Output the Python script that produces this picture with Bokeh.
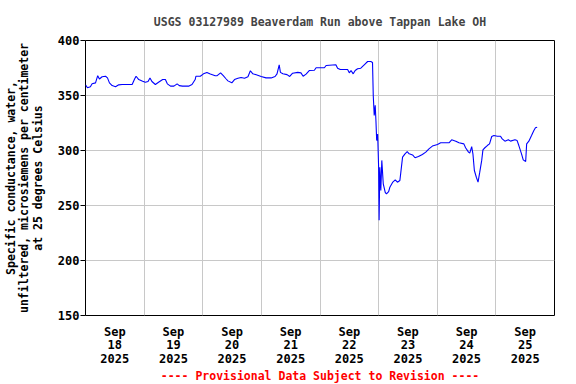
import pandas as pd
from bokeh.plotting import figure
from bokeh.models import FixedTicker, Title, Range1d
from bokeh.embed import file_html
from bokeh.resources import INLINE

# hours after 2025-09-18 00:00 and specific conductance values (uS/cm)
hours = [0.0, 0.8, 2.0, 2.7, 4.1, 5.0, 5.7, 6.8, 8.2, 9.0, 9.8, 10.9, 12.3, 13.6, 15.0,
         17.0, 19.1, 20.1, 20.7, 21.8, 23.4, 24.5, 25.6, 26.4, 27.2, 28.6, 29.9, 31.6,
         32.7, 33.5, 34.8, 36.2, 37.5, 38.4, 39.7, 42.2, 43.6, 44.9, 45.2, 47.0, 48.3,
         49.7, 51.1, 53.1, 53.9, 55.3, 56.4, 57.6, 58.3, 59.9, 61.0, 62.4, 63.7, 65.1,
         66.5, 67.5, 68.5, 69.9, 71.9, 73.9, 76.0, 77.6, 78.4, 79.3, 79.8, 80.8, 82.5,
         83.6, 84.8, 86.9, 88.2, 89.1, 90.3, 91.6, 93.7, 94.4, 97.8, 98.5, 102.5, 103.2,
         104.3, 105.3, 107.3, 108.0, 108.7, 109.6, 110.4, 111.4, 112.7, 114.1, 115.5,
         116.8, 117.5, 117.8, 118.2, 118.6, 118.9, 119.2, 119.6, 120.0, 120.2, 120.5,
         120.9, 121.3, 121.9, 122.7, 123.2, 124.1, 124.6, 125.7, 126.8, 127.7, 128.7,
         129.1, 129.8, 130.8, 131.7, 132.5, 133.9, 134.9, 136.3, 137.9, 139.3, 140.6,
         142.0, 144.1, 145.4, 148.8, 149.9, 151.6, 152.9, 154.9, 155.6, 156.8, 157.3,
         158.1, 158.6, 159.2, 160.0, 160.7, 161.4, 162.2, 162.7, 163.5, 164.5, 165.4,
         166.3, 167.2, 168.6, 169.9, 170.6, 171.7, 173.1, 174.0, 175.8, 176.7, 177.4,
         178.5, 179.2, 180.2, 180.6, 181.5, 182.6, 183.5, 184.2, 184.9]
values = [359.7, 357, 358, 360.6, 361.5, 368, 365, 367, 367.5, 366, 361.5, 359, 358, 359.7, 360,
          360, 360, 365, 367.5, 364.5, 363, 362, 362.7, 366, 362.7, 360, 362, 364.5,
          364.5, 360.6, 358.5, 358.5, 360.6, 359, 358.5, 358.5, 360, 364.5, 367.5, 367.5, 369.7,
          371, 369.5, 368, 368, 370.6, 368, 365, 363.3, 361.5, 364.5, 365.7, 366.4, 365.7,
          367, 372.5, 369.7, 368.8, 367.3, 366, 366, 367.3, 369.7, 377.9, 371, 369.7, 369,
          367.3, 370.3, 371, 370.6, 367.5, 369.4, 372.7, 373, 375.2, 375.2, 377.3, 378, 374.8,
          373.6, 373.6, 373.6, 370.6, 372.7, 369.7, 372.7, 374.3, 374.8, 377.9, 380.9,
          380.9, 380, 350, 331.8, 341, 327, 309, 315, 284.8, 236.5, 284.8,
          263.6, 291, 269.7, 262, 260.6, 262.7, 266.6, 271, 273.3, 271.2, 272.7,
          280.3, 294, 297, 299, 297, 296, 293.4, 294.5, 296.4, 298.5, 301.5,
          304, 305.5, 307, 307, 309.7, 308.5, 307, 306, 302.5, 298.5, 297.6,
          303.6, 297, 281.8, 275.7, 271.2, 280.3, 291, 300.6, 302.5, 304.5, 306,
          312.7, 313.6, 313, 313, 310.6, 308.5, 309.7, 308.5, 309.7, 309, 304.5,
          297, 291.5, 290, 306, 308.5, 313.6, 318, 320.6, 321.2]

days = ["2025-09-18", "2025-09-19", "2025-09-20", "2025-09-21",
        "2025-09-22", "2025-09-23", "2025-09-24", "2025-09-25"]
tick_labels = ["Sep\n18\n2025", "Sep\n19\n2025", "Sep\n20\n2025", "Sep\n21\n2025",
               "Sep\n22\n2025", "Sep\n23\n2025", "Sep\n24\n2025", "Sep\n25\n2025"]
y_ticks = [150, 200, 250, 300, 350, 400]

base = pd.Timestamp("2025-09-18")
times = base + pd.to_timedelta(hours, unit="h")

def ms(ts):
    return int(pd.Timestamp(ts).value // 10**6)

midnights = [ms(d) for d in days] + [ms(pd.Timestamp(days[-1]) + pd.Timedelta(days=1))]
noons = [ms(pd.Timestamp(d) + pd.Timedelta(hours=12)) for d in days]

FONT = "DejaVu Sans Mono"

p = figure(width=576, height=384, x_axis_type="datetime", output_backend="svg",
           toolbar_location=None,
           x_range=Range1d(midnights[0], midnights[-1]), y_range=Range1d(150, 400),
           min_border_left=85, min_border_right=22, min_border_top=40, min_border_bottom=69)

p.line(times, values, line_color="#0000FF", line_width=1.1)

p.title.text = "USGS 03127989 Beaverdam Run above Tappan Lake OH"
p.title.align = "center"
p.title.text_font = FONT
p.title.text_font_size = "11.5px"
p.title.text_font_style = "bold"
p.title.standoff = 24

p.outline_line_color = "black"
p.outline_line_width = 1
p.background_fill_color = "white"
p.border_fill_color = "white"

xa = p.xaxis[0]
xa.ticker = FixedTicker(ticks=noons)
xa.major_label_overrides = {t: l for t, l in zip(noons, tick_labels)}
xa.major_tick_line_color = None
xa.minor_tick_line_color = None
xa.axis_line_color = None
xa.major_label_text_font = FONT
xa.major_label_text_font_size = "12px"
xa.major_label_text_font_style = "bold"
xa.major_label_text_color = "black"
xa.major_label_text_line_height = 0.97
xa.major_label_standoff = 3

ya = p.yaxis[0]
ya.ticker = FixedTicker(ticks=y_ticks)
ya.axis_line_color = None
ya.major_tick_line_color = "black"
ya.major_tick_out = 5
ya.major_tick_in = 0
ya.minor_tick_line_color = None
ya.major_label_text_font = FONT
ya.major_label_text_font_size = "12px"
ya.major_label_text_font_style = "bold"
ya.major_label_text_color = "black"
ya.major_label_standoff = 1
ya.axis_label = "Specific conductance, water,\nunfiltered, microsiemens per centimeter\nat 25 degrees Celsius"
ya.axis_label_text_font = FONT
ya.axis_label_text_font_size = "11.5px"
ya.axis_label_text_font_style = "bold"
ya.axis_label_text_color = "black"
ya.axis_label_text_line_height = 0.97
ya.axis_label_standoff = 10

p.xgrid.ticker = FixedTicker(ticks=midnights)
p.ygrid.ticker = FixedTicker(ticks=y_ticks)
p.xgrid.grid_line_color = "#c8c8c8"
p.ygrid.grid_line_color = "#c8c8c8"
p.xgrid.grid_line_width = 1
p.ygrid.grid_line_width = 1

footer = Title(text="---- Provisional Data Subject to Revision ----", align="center",
               text_font=FONT, text_font_size="11.5px", text_font_style="bold",
               text_color="#FF0000", standoff=-3)
p.add_layout(footer, "below")

open("out.html", "w").write(file_html(p, INLINE))
